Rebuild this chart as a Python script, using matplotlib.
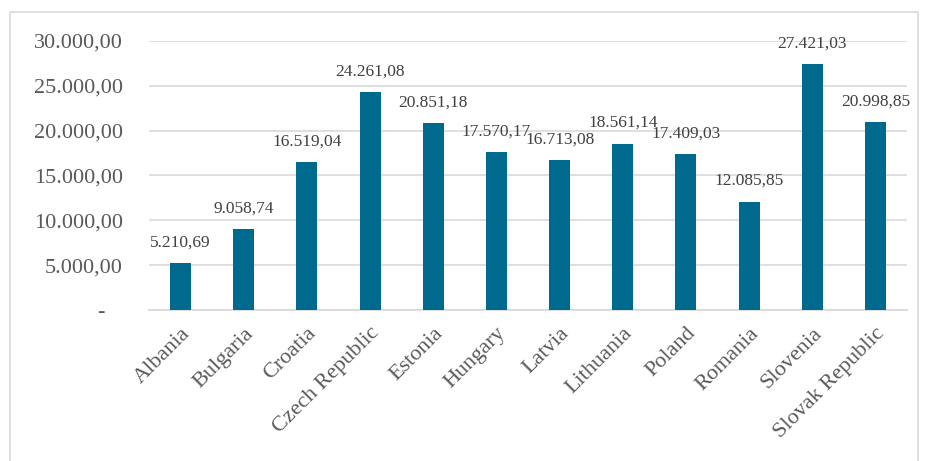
import matplotlib
matplotlib.use('Agg')
import matplotlib.pyplot as plt
from matplotlib.ticker import FuncFormatter
from matplotlib.patches import Rectangle

countries = ['Albania', 'Bulgaria', 'Croatia', 'Czech Republic', 'Estonia', 'Hungary',
             'Latvia', 'Lithuania', 'Poland', 'Romania', 'Slovenia', 'Slovak Republic']
values = [5210.69, 9058.74, 16519.04, 24261.08, 20851.18, 17570.17,
          16713.08, 18561.14, 17409.03, 12085.85, 27421.03, 20998.85]
yticks = [0, 5000, 10000, 15000, 20000, 25000, 30000]

plt.rcParams['font.family'] = ['Liberation Serif', 'DejaVu Serif']
text_color = '#595959'
bar_color = '#006A8E'


def eu_fmt(v, pos=None):
    if v == 0:
        return '-   '
    s = f'{v:,.2f}'
    return s.replace(',', 'X').replace('.', ',').replace('X', '.')


fig = plt.figure(figsize=(9.26, 4.61), dpi=100)
ax = fig.add_axes([149 / 926, 1 - 310 / 461, 758 / 926, 269 / 461])

# outer chart frame
fig.patches.append(Rectangle((10 / 926, -0.05), 908 / 926, 1 - 12 / 461 + 0.05,
                             transform=fig.transFigure, fill=False,
                             edgecolor='#d9d9d9', lw=1.2))

x = range(len(countries))
ax.bar(x, values, width=0.33, color=bar_color, zorder=3)
for xi, v in zip(x, values):
    ax.annotate(eu_fmt(v), (xi, v), xytext=(0, 9), textcoords='offset points',
                ha='center', va='bottom', fontsize=12.5, color='#404040')

ax.set_ylim(0, 30000)
ax.set_xlim(-0.5, len(countries) - 0.5)
ax.set_yticks(yticks)
ax.yaxis.set_major_formatter(FuncFormatter(eu_fmt))
ax.grid(axis='y', color='#d9d9d9', lw=1.2, zorder=0)
for s in ['top', 'right', 'left']:
    ax.spines[s].set_visible(False)
ax.spines['bottom'].set_color('#d9d9d9')
ax.spines['bottom'].set_linewidth(1.2)

ax.set_xticks(list(x))
ax.set_xticklabels(countries, rotation=45, ha='right', rotation_mode='anchor',
                   fontsize=16, color=text_color)
ax.tick_params(axis='x', length=0, pad=10)
ax.tick_params(axis='y', length=0, pad=19, labelsize=16, labelcolor=text_color)

fig.savefig('out.png', dpi=100)
